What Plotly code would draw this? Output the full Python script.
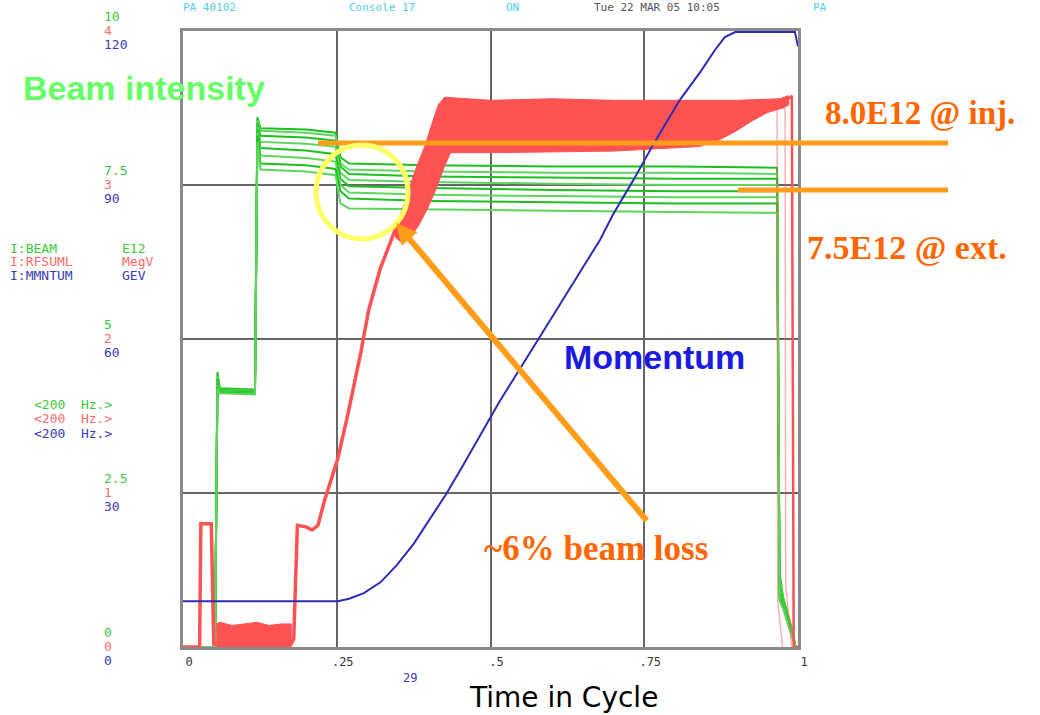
import plotly.graph_objects as go

# ---------------- data ----------------
# time in cycle (fraction of the cycle)
green_x = [0, 0.052, 0.056, 0.060, 0.117, 0.121, 0.126, 0.200, 0.248, 0.256, 0.270,
           0.400, 0.600, 0.800, 0.966, 0.970, 0.976, 0.982, 0.990, 0.996, 1.0]
# I:BEAM (E12) - several overlaid cycles
beam_1 = [0, 0, 4.46, 4.20, 4.18, 8.60, 8.42, 8.40, 8.35, 7.95, 7.85, 7.82, 7.80, 7.80, 7.78, 1.20, 0.80, 0.60, 0.30, 0.00, 0.00]
beam_2 = [0, 0, 4.40, 4.18, 4.16, 8.55, 8.38, 8.35, 8.30, 7.85, 7.75, 7.72, 7.70, 7.70, 7.68, 1.10, 0.78, 0.58, 0.28, 0.00, 0.00]
beam_3 = [0, 0, 4.35, 4.17, 4.15, 8.50, 8.30, 8.27, 8.22, 7.80, 7.68, 7.64, 7.62, 7.60, 7.60, 1.00, 0.75, 0.55, 0.26, 0.00, 0.00]
beam_4 = [0, 0, 4.30, 4.16, 4.14, 8.45, 8.20, 8.17, 8.12, 7.70, 7.58, 7.55, 7.52, 7.50, 7.50, 0.95, 0.72, 0.52, 0.25, 0.00, 0.00]
beam_5 = [0, 0, 4.28, 4.15, 4.13, 8.40, 8.10, 8.06, 8.00, 7.60, 7.48, 7.45, 7.42, 7.40, 7.40, 0.90, 0.70, 0.50, 0.24, 0.00, 0.00]
beam_6 = [0, 0, 4.25, 4.14, 4.12, 8.35, 7.98, 7.94, 7.88, 7.50, 7.38, 7.34, 7.32, 7.30, 7.30, 0.85, 0.68, 0.48, 0.22, 0.00, 0.00]
beam_7 = [0, 0, 4.22, 4.13, 4.11, 8.30, 7.85, 7.82, 7.76, 7.40, 7.28, 7.24, 7.22, 7.20, 7.20, 0.80, 0.65, 0.45, 0.20, 0.00, 0.00]
beam_8 = [0, 0, 4.20, 4.12, 4.10, 8.20, 7.75, 7.72, 7.66, 7.20, 7.12, 7.10, 7.08, 7.06, 7.05, 0.75, 0.62, 0.42, 0.18, 0.00, 0.00]

# I:RFSUML (MegV) - ramp part
rf_x = [0, 0.027, 0.029, 0.046, 0.050, 0.054, 0.176, 0.180, 0.186, 0.200, 0.210, 0.2195,
        0.230, 0.2515, 0.2675, 0.289, 0.302, 0.321, 0.343, 0.350]
rf_y = [0, 0, 0.80, 0.80, 0.02, 0.02, 0.02, 0.05, 0.79, 0.78, 0.76, 0.79,
        0.95, 1.22, 1.50, 1.91, 2.19, 2.46, 2.69, 2.76]
# RF noise envelope at injection (low band)
rf_low_x = [0.054, 0.060, 0.080, 0.100, 0.120, 0.140, 0.160, 0.176, 0.176, 0.054]
rf_low_y = [0.15, 0.16, 0.14, 0.15, 0.16, 0.14, 0.15, 0.15, 0.00, 0.00]
# RF noise envelope during end of ramp / flat top (upper edge then lower edge)
rf_band_x = [0.343, 0.360, 0.378, 0.393, 0.405, 0.415, 0.425, 0.500, 0.600, 0.700, 0.800, 0.900, 0.970, 0.985,
             0.985, 0.975, 0.950, 0.927, 0.895, 0.870, 0.840, 0.700, 0.500, 0.435, 0.425, 0.412, 0.398, 0.385, 0.370, 0.358, 0.345]
rf_band_y = [2.70, 2.88, 3.10, 3.25, 3.40, 3.52, 3.57, 3.55, 3.56, 3.55, 3.55, 3.55, 3.56, 3.58,
             3.52, 3.50, 3.47, 3.42, 3.34, 3.29, 3.25, 3.22, 3.21, 3.21, 3.12, 2.98, 2.85, 2.75, 2.66, 2.62, 2.66]
rf_end_x = [0.985, 0.990, 0.993, 1.0]
rf_end_y = [3.56, 3.58, 0.00, 0.00]
rf_ghost1_x = [0.950, 0.966, 0.967, 0.975]
rf_ghost1_y = [3.50, 3.50, 0.30, 0.00]
rf_ghost2_x = [0.970, 0.979, 0.980, 0.990]
rf_ghost2_y = [3.50, 3.50, 0.40, 0.00]

# I:MMNTUM (GeV)
mom_x = [0, 0.252, 0.270, 0.294, 0.321, 0.348, 0.375, 0.402, 0.428, 0.455, 0.482, 0.514, 0.550,
         0.600, 0.650, 0.678, 0.699, 0.732, 0.767, 0.808, 0.841, 0.865, 0.881, 0.898, 0.995, 1.0]
mom_y = [8.9, 8.9, 9.4, 10.5, 12.6, 16.0, 20.1, 25.0, 29.8, 35.3, 40.9, 47.7, 54.6,
         64.3, 73.9, 79.3, 84.2, 90.9, 98.4, 106.6, 112.0, 116.3, 118.8, 119.8, 119.8, 117.0]

# axis ticks
x_tick_vals = [0, 0.25, 0.5, 0.75, 1]
x_tick_text = ["0", ".25", ".5", ".75", "1"]
beam_tick_vals = [0, 2.5, 5, 7.5, 10]
beam_tick_text = ["0", "2.5", "5", "7.5", "10"]
rf_tick_vals = [0, 1, 2, 3, 4]
rf_tick_text = ["0", "1", "2", "3", "4"]
mom_tick_vals = [0, 30, 60, 90, 120]
mom_tick_text = ["0", "30", "60", "90", "120"]

GREEN = "#1ec01e"
GREEN_L = "#5cd65c"
RED = "#ff5252"
BLUE = "#2c2cb4"
MONO = "DejaVu Sans Mono"

fig = go.Figure()

beams = [beam_1, beam_2, beam_3, beam_4, beam_5, beam_6, beam_7, beam_8]
for i, b in enumerate(beams):
    fig.add_trace(go.Scatter(x=green_x, y=b, mode="lines", yaxis="y",
                             line=dict(color=GREEN if i % 2 == 0 else GREEN_L, width=2),
                             hoverinfo="skip", showlegend=False))

fig.add_trace(go.Scatter(x=rf_low_x, y=rf_low_y, mode="lines", fill="toself", yaxis="y2",
                         fillcolor=RED, line=dict(color=RED, width=1), hoverinfo="skip", showlegend=False))
fig.add_trace(go.Scatter(x=rf_band_x, y=rf_band_y, mode="lines", fill="toself", yaxis="y2",
                         fillcolor=RED, line=dict(color=RED, width=1), hoverinfo="skip", showlegend=False))
fig.add_trace(go.Scatter(x=rf_x, y=rf_y, mode="lines", yaxis="y2",
                         line=dict(color=RED, width=3.5), hoverinfo="skip", showlegend=False))
fig.add_trace(go.Scatter(x=rf_end_x, y=rf_end_y, mode="lines", yaxis="y2",
                         line=dict(color=RED, width=2.5), hoverinfo="skip", showlegend=False))
for gx, gy in [(rf_ghost1_x, rf_ghost1_y), (rf_ghost2_x, rf_ghost2_y)]:
    fig.add_trace(go.Scatter(x=gx, y=gy, mode="lines", yaxis="y2",
                             line=dict(color="rgba(255,82,82,0.45)", width=1.5),
                             hoverinfo="skip", showlegend=False))

fig.add_trace(go.Scatter(x=mom_x, y=mom_y, mode="lines", yaxis="y3",
                         line=dict(color=BLUE, width=2), hoverinfo="skip", showlegend=False))

L, R, T, B = 183, 242, 31, 68
W, H = 1040, 715
PW, PH = W - L - R, H - T - B


def px(xp):
    return (xp - L) / PW


def py(yp):
    return (H - B - yp) / PH


ann = []


def label(x, y, text, font, xanchor="center", yref="paper", yshift=0):
    ann.append(dict(x=x, xref="paper", y=y, yref=yref, yshift=yshift, text=text, showarrow=False,
                    xanchor=xanchor, yanchor="middle", font=font))


# stacked tri-colour tick labels on the left
for v, t in zip(beam_tick_vals, beam_tick_text):
    label(px(102), v, t, dict(family=MONO, size=13, color="#3cc83c"), "left", "y", 15)
for v, t in zip(rf_tick_vals, rf_tick_text):
    label(px(102), v, t, dict(family=MONO, size=13, color="#ff6a6a"), "left", "y2", 1)
for v, t in zip(mom_tick_vals, mom_tick_text):
    label(px(102), v, t, dict(family=MONO, size=13, color="#3a3ab4"), "left", "y3", -13)

# device legend
for name, unit, col, yy in [("I:BEAM", "E12", "#3cc83c", 248), ("I:RFSUML", "MegV", "#ff6a6a", 261),
                            ("I:MMNTUM", "GEV", "#3a3ab4", 275)]:
    label(px(8), py(yy), name, dict(family=MONO, size=13, color=col), "left")
    label(px(120), py(yy), unit, dict(family=MONO, size=13, color=col), "left")
for col, yy in [("#3cc83c", 404), ("#ff6a6a", 418), ("#3a3ab4", 433)]:
    label(px(32), py(yy), "&lt;200&nbsp;&nbsp;Hz.&gt;", dict(family=MONO, size=13, color=col), "left")

label(px(410), py(678), "29", dict(family=MONO, size=12, color="#3a3ab4"))

# header line at the very top
for txt, xl, col in [("PA 40102", 181, "#4fd0e0"), ("Console 17", 347, "#4fd0e0"), ("ON", 504, "#4fd0e0"),
                     ("Tue 22 MAR 05 10:05", 592, "#555555"), ("PA", 811, "#4fd0e0")]:
    label(px(xl), py(8), txt, dict(family=MONO, size=11, color=col), "left")

# call-outs
label(px(144), py(88), "Beam intensity",
      dict(family="Liberation Sans", size=34, color="#66ff66", weight="bold"))
label(px(654), py(357), "Momentum",
      dict(family="Liberation Sans", size=34, color="#1a1ae0", weight="bold"))
ORANGE_T = "#ff6600"
label(px(920), py(113), "8.0E12 @ inj.", dict(family="Liberation Serif", size=33, color=ORANGE_T, weight="bold"))
label(px(907), py(247), "7.5E12 @ ext.", dict(family="Liberation Serif", size=34, color=ORANGE_T, weight="bold"))
label(px(596), py(548), "~6% beam loss", dict(family="Liberation Serif", size=35, color=ORANGE_T, weight="bold"))
label(px(563), py(697), "Time in Cycle", dict(family="DejaVu Sans", size=28, color="#000000"))

# arrow to the circle
ann.append(dict(x=px(396), xref="paper", y=py(223), yref="paper", text="", showarrow=True,
                ax=648 - 396, ay=522 - 223, arrowhead=2, arrowsize=0.7, arrowwidth=6,
                arrowcolor="#ff9d1a"))

ORANGE_L = "#ff9d1a"
shapes = [
    dict(type="line", xref="paper", yref="paper", x0=px(318), x1=px(948), y0=py(143), y1=py(143),
         line=dict(color=ORANGE_L, width=5)),
    dict(type="line", xref="paper", yref="paper", x0=px(738), x1=px(948), y0=py(190), y1=py(190),
         line=dict(color=ORANGE_L, width=5)),
    dict(type="circle", xref="paper", yref="paper", x0=px(316), x1=px(408), y0=py(239), y1=py(145),
         line=dict(color="#ffff66", width=5)),
]

fig.update_layout(
    width=W, height=H,
    margin=dict(l=L, r=R, t=T, b=B, pad=0),
    paper_bgcolor="white", plot_bgcolor="white",
    annotations=ann, shapes=shapes,
    xaxis=dict(range=[0, 1], tickvals=x_tick_vals, ticktext=x_tick_text, showgrid=True,
               gridcolor="#666666", gridwidth=2, showline=True, mirror=True, linecolor="#8a8a8a",
               linewidth=3, zeroline=False, ticks="", ticklabelshift=6, ticklabelstandoff=2,
               tickfont=dict(family=MONO, size=12, color="#333333")),
    yaxis=dict(range=[0, 10], tickvals=beam_tick_vals, showticklabels=False, showgrid=True,
               gridcolor="#666666", gridwidth=2, showline=True, mirror=True, linecolor="#8a8a8a",
               linewidth=3, zeroline=False, ticks=""),
    yaxis2=dict(range=[0, 4], overlaying="y", visible=False, showgrid=False),
    yaxis3=dict(range=[0, 120], overlaying="y", visible=False, showgrid=False),
)

fig.write_html("out.html")
